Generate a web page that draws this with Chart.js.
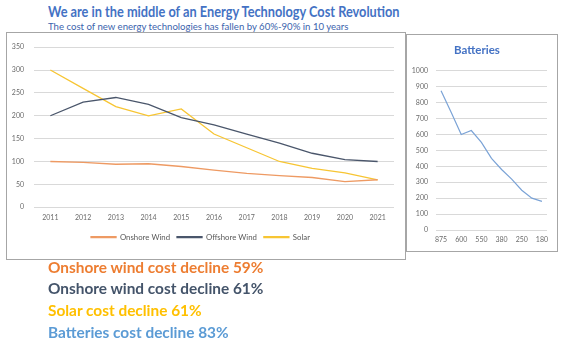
<!DOCTYPE html>
<html>
<head>
<meta charset="utf-8">
<script src="https://cdn.jsdelivr.net/npm/chart.js@4.4.1/dist/chart.umd.min.js"></script>
<style>
  html, body { margin:0; padding:0; background:#fff; width:583px; height:345px; overflow:hidden; font-family: Lato, "Open Sans", sans-serif; }
  .abs { position:absolute; }
  #title { left:48px; top:3px; font-size:14.5px; font-weight:bold; color:#4472C4; white-space:nowrap; transform:scaleX(0.88); transform-origin:left center; }
  #sub { left:48px; top:21px; font-size:9.6px; color:#3B64AD; white-space:nowrap; }
  #mainBox { left:6px; top:32px; width:398px; height:226px; border:1px solid #a6a6a6; }
  #batBox { left:406px; top:34px; width:150px; height:216px; border:1px solid #a6a6a6; }
  .note { left:48px; font-size:15.4px; font-weight:bold; white-space:nowrap; }
</style>
</head>
<body>
<div id="title" class="abs">We are in the middle of an Energy Technology Cost Revolution</div>
<div id="sub" class="abs">The cost of new energy technologies has fallen by 60%-90% in 10 years</div>
<div id="mainBox" class="abs"><canvas id="main" width="398" height="226"></canvas></div>
<div id="batBox" class="abs"><canvas id="bat" width="150" height="216"></canvas></div>
<div class="abs note" style="top:258px;color:#ED7D31">Onshore wind cost decline 59%</div>
<div class="abs note" style="top:279px;color:#44546A">Onshore wind cost decline 61%</div>
<div class="abs note" style="top:301px;color:#FFC000">Solar cost decline 61%</div>
<div class="abs note" style="top:323px;color:#5B9BD5">Batteries cost decline 83%</div>
<script>
const years = ['2011','2012','2013','2014','2015','2016','2017','2018','2019','2020','2021'];
const onshoreWind  = [100, 98, 94, 95, 89, 81, 74, 69, 65, 56, 60];
const offshoreWind = [200, 230, 240, 225, 196, 180, 160, 140, 118, 104, 100];
const solar        = [300, 260, 220, 200, 215, 160, 130, 100, 85, 75, 60];
const batteryLabels = ['875','740','600','625','550','450','380','320','250','200','180'];
const batteryCost   = [875, 740, 600, 625, 550, 450, 380, 320, 250, 200, 180];

const tickFont = { family: 'Lato, "Open Sans", sans-serif', size: 7 };
const tickColor = '#6b6b6b';
const gridColor = '#d9d9d9';

function ds(label, data, color) {
  return { label, data, borderColor: color, backgroundColor: color, borderWidth: 1.3,
           pointRadius: 0, tension: 0, fill: false };
}

new Chart(document.getElementById('main'), {
  type: 'line',
  data: { labels: years, datasets: [
    ds('Onshore Wind', onshoreWind, '#EE9A63'),
    ds('Offshore Wind', offshoreWind, '#4A566B'),
    ds('Solar', solar, '#F7C533')
  ]},
  options: {
    responsive: false, animation: false, devicePixelRatio: 1,
    layout: { padding: { left: 0, right: 11, top: 8, bottom: 8 } },
    plugins: {
      legend: { position: 'bottom',
        labels: { boxWidth: 25, boxHeight: 1, font: { family: 'Lato, "Open Sans", sans-serif', size: 7.8 }, color: '#595959', padding: 7 } },
      tooltip: { enabled: false }
    },
    scales: {
      x: { offset: true, grid: { display: false, drawTicks: false }, border: { display: false },
           ticks: { font: tickFont, color: tickColor, maxRotation: 0, autoSkip: false, padding: 6 },
           afterFit(s) { s.height = 19; } },
      y: { min: 0, max: 350, grid: { color: gridColor, lineWidth: 1, drawTicks: false }, border: { display: false },
           ticks: { stepSize: 50, font: tickFont, color: tickColor, padding: 10 },
           afterFit(s) { s.width = 27; } }
    }
  }
});

new Chart(document.getElementById('bat'), {
  type: 'line',
  data: { labels: batteryLabels, datasets: [
    { label: 'Batteries', data: batteryCost, borderColor: '#7BA3D6', borderWidth: 1.2, pointRadius: 0, tension: 0, fill: false }
  ]},
  options: {
    responsive: false, animation: false, devicePixelRatio: 1,
    layout: { padding: { left: 0, right: 10, top: 6, bottom: 5 } },
    plugins: {
      legend: { display: false },
      tooltip: { enabled: false },
      title: { display: true, text: 'Batteries', color: '#4472C4',
               font: { family: 'Lato, "Open Sans", sans-serif', size: 11.5, weight: 'bold' }, padding: { top: 2, bottom: 14 } }
    },
    scales: {
      x: { offset: true, grid: { display: false, drawTicks: false }, border: { display: false },
           ticks: { font: tickFont, color: tickColor, maxRotation: 0, autoSkip: false, padding: 6,
                    callback(v, i) { return i % 2 === 0 ? batteryLabels[i] : ''; } },
           afterFit(s) { s.height = 16; } },
      y: { min: 0, max: 1000, grid: { color: gridColor, lineWidth: 1, drawTicks: false }, border: { display: false },
           ticks: { stepSize: 100, font: tickFont, color: tickColor, padding: 8,
                    callback(v) { return String(v); } },
           afterFit(s) { s.width = 29; } }
    }
  }
});
</script>
</body>
</html>
